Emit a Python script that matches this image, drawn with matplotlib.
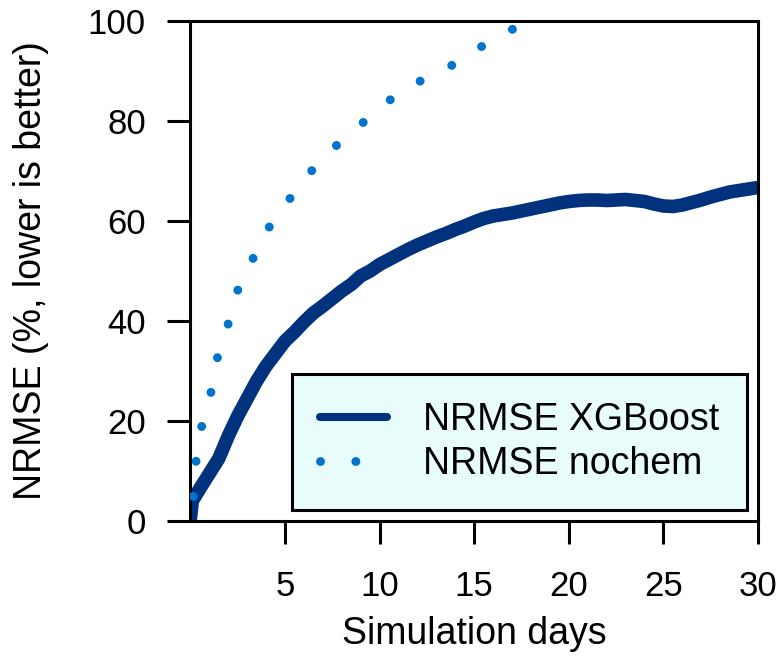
import numpy as np
import matplotlib.pyplot as plt

plt.rcParams['font.family'] = ['Liberation Sans', 'DejaVu Sans']

# NRMSE of the XGBoost run over simulation time
days_xgb = [0.0, 0.1, 0.5, 1.0, 1.5, 2.0, 2.5, 3.0, 3.5, 4.0, 4.5, 5.0, 5.5, 6.0,
            6.5, 7.0, 7.5, 8.0, 8.5, 9.0, 9.5, 10.0, 10.5, 11.0, 11.5, 12.0,
            12.5, 13.0, 13.5, 14.0, 14.5, 15.0, 15.5, 16.0, 16.5, 17.0, 17.5,
            18.0, 18.5, 19.0, 19.5, 20.0, 20.5, 21.0, 21.5, 22.0, 22.5, 23.0,
            23.5, 24.0, 24.5, 25.0, 25.5, 26.0, 26.5, 27.0, 27.5, 28.0, 28.5,
            29.0, 29.5, 30.0]
nrmse_xgb = [0.5, 4.0, 6.5, 9.5, 12.5, 17.0, 21.0, 24.5, 28.0, 31.0, 33.5, 36.0,
             37.8, 39.8, 41.6, 43.0, 44.5, 46.0, 47.3, 49.0, 50.0, 51.3, 52.3,
             53.3, 54.3, 55.2, 56.0, 56.8, 57.5, 58.3, 59.0, 59.8, 60.5, 61.0,
             61.3, 61.6, 62.0, 62.4, 62.8, 63.2, 63.6, 63.9, 64.1, 64.2, 64.2,
             64.1, 64.2, 64.3, 64.1, 63.9, 63.4, 63.0, 62.9, 63.2, 63.7, 64.2,
             64.8, 65.3, 65.8, 66.1, 66.4, 66.7]

# NRMSE without chemistry
days_nochem = [0.15, 0.3, 0.6, 1.09, 1.44, 2.02, 2.53, 3.36, 4.21, 5.32, 6.46,
               7.77, 9.16, 10.58, 12.15, 13.8, 15.3, 16.95, 18.5]
nrmse_nochem = [4.9, 12.0, 19.0, 25.8, 32.9, 39.7, 46.5, 52.9, 59.1, 64.8, 70.3,
                75.3, 79.8, 84.3, 88.0, 91.1, 94.7, 98.2, 101.3]

x_ticks = [5, 10, 15, 20, 25, 30]
y_ticks = [0, 20, 40, 60, 80, 100]

fig = plt.figure(figsize=(7.83, 6.58), dpi=100)
ax = fig.add_axes([0.2432, 0.2082, 0.7249, 0.7599])

ax.plot(days_xgb, nrmse_xgb, color='#00327d', lw=9.8, solid_capstyle='round',
        solid_joinstyle='round', label='NRMSE XGBoost', zorder=2)
ax.plot(days_nochem, nrmse_nochem, color='#0073cf', lw=6.4,
        linestyle=(0, (0.01, 3.96)), dash_capstyle='round',
        label='NRMSE nochem', zorder=3)

ax.set_xlim(0, 30)
ax.set_ylim(0, 100)
ax.set_xticks(x_ticks)
ax.set_yticks(y_ticks)
ax.tick_params(axis='both', direction='out', length=16.5, width=2.2, labelsize=25)
ax.tick_params(axis='x', pad=19)
ax.tick_params(axis='y', pad=15.5)
for sp in ax.spines.values():
    sp.set_linewidth(2.2)

ax.set_xlabel('Simulation days', fontsize=27)
ax.set_ylabel('NRMSE (%, lower is better)', fontsize=27)
ax.xaxis.set_label_coords(0.5, -0.19)
ax.yaxis.set_label_coords(-0.25, 0.5)

leg = ax.legend(loc='lower right', bbox_to_anchor=(0.981, 0.022), borderaxespad=0,
                fontsize=27, fancybox=False, framealpha=1, edgecolor='black',
                facecolor='#e8fcfc', handlelength=1.8, handletextpad=0.95,
                borderpad=0.75, labelspacing=0.2)
leg.get_frame().set_linewidth(2.2)
leg.get_lines()[0].set_linewidth(5.8)

fig.savefig('out.png', dpi=100)
